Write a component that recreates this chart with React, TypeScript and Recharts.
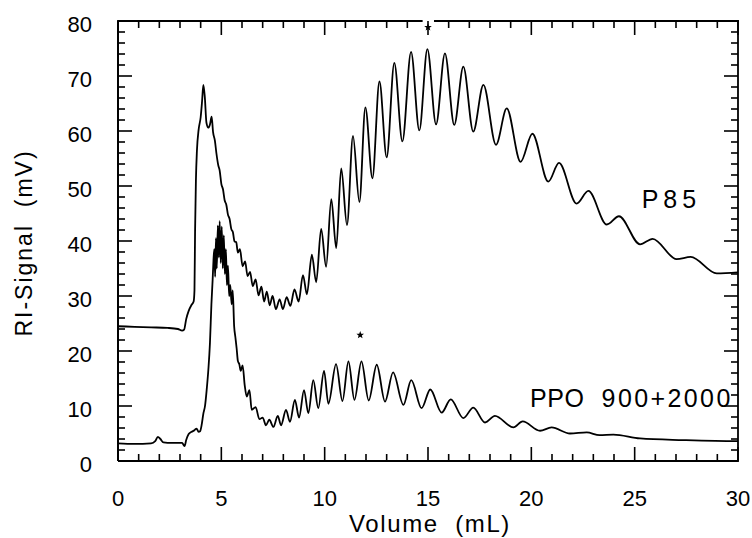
import React from 'react';
import { LineChart, Line, XAxis, YAxis } from 'recharts';

const FONT = '"Liberation Sans", Arial, Helvetica, sans-serif';

// P85 chromatogram: [volume (mL), RI signal (mV)]
const p85Points: [number, number][] = [
  [0, 24.5], [0.8, 24.4], [1.6, 24.3], [2.4, 24.2], [2.9, 24.0], [3.1, 23.7], [3.2, 23.9], [3.3, 25.8],
  [3.42, 27.3], [3.56, 28.4], [3.66, 29.0], [3.7, 31], [3.73, 42], [3.77, 51], [3.82, 56.5], [3.9, 60.2],
  [4.0, 62.5], [4.07, 65.5], [4.13, 68.4], [4.2, 66.2], [4.28, 61.5], [4.37, 60.6], [4.45, 61.2], [4.53, 62.6],
  [4.6, 59.8], [4.69, 58.2], [4.76, 56.0], [4.85, 53.8], [4.92, 52.8], [5.0, 50.4], [5.08, 49.4], [5.16, 47.4],
  [5.24, 46.6], [5.32, 44.8], [5.4, 44.0], [5.48, 42.2], [5.56, 41.6], [5.64, 39.9], [5.72, 39.8], [5.8, 37.9],
  [5.9, 38.5], [6.03, 35.4], [6.15, 36.3], [6.27, 33.6], [6.39, 34.4], [6.52, 31.8], [6.66, 33.0], [6.8, 30.1],
  [6.94, 31.7], [7.07, 29.0], [7.2, 30.8], [7.34, 28.3], [7.48, 30.0], [7.64, 27.6], [7.82, 29.4], [7.98, 27.6],
  [8.16, 29.8], [8.34, 28.2], [8.54, 31.2], [8.74, 29.0], [8.95, 33.8], [9.14, 30.3], [9.38, 37.5], [9.59, 32.5],
  [9.83, 42.2], [10.07, 35.3], [10.32, 47.6], [10.56, 38.7], [10.8, 53.2], [11.08, 42.9], [11.37, 59.1], [11.68, 47.1],
  [11.97, 64.3], [12.31, 51.4], [12.65, 69.0], [13.0, 55.2], [13.37, 72.4], [13.76, 58.1], [14.18, 74.4], [14.58, 60.1],
  [14.97, 74.9], [15.39, 61.2], [15.82, 74.1], [16.27, 61.1], [16.71, 71.7], [17.19, 59.9], [17.68, 68.4], [18.29, 57.5],
  [18.81, 64.1], [19.48, 54.4], [20.05, 59.5], [20.82, 50.8], [21.34, 54.2], [22.19, 46.8], [22.76, 49.1], [23.65, 43.0],
  [24.24, 44.5], [25.26, 39.4], [25.87, 40.4], [27.03, 36.7], [27.71, 37.1], [28.97, 34.1], [30, 34.3],
];

// PPO 900+2000 chromatogram: [volume (mL), RI signal (mV)]
const ppoPoints: [number, number][] = [
  [0, 3.2], [0.8, 3.1], [1.6, 3.2], [1.8, 3.6], [1.93, 4.4], [2.05, 4.0], [2.2, 3.4], [2.6, 3.3], [3.1, 3.3],
  [3.22, 2.7], [3.3, 3.8], [3.42, 4.9], [3.56, 5.3], [3.7, 5.6], [3.8, 5.9], [3.9, 5.3], [3.97, 5.4], [4.05, 6.6],
  [4.13, 8.6], [4.21, 10.0], [4.29, 12.9], [4.37, 16.5], [4.45, 21.5], [4.52, 28.5], [4.58, 33], [4.62, 36.5],
  [4.66, 38.5], [4.7, 33.5], [4.74, 40.5], [4.78, 35], [4.83, 42.8], [4.88, 37], [4.92, 43.6], [4.97, 36],
  [5.02, 42.6], [5.07, 35], [5.12, 41], [5.17, 34], [5.22, 38.5], [5.27, 32], [5.32, 35.5], [5.38, 30],
  [5.43, 32], [5.5, 28.5], [5.55, 31], [5.62, 24.5], [5.68, 22.5], [5.74, 20.5], [5.8, 18.2], [5.87, 17.6],
  [5.94, 16.4], [6.03, 17.4], [6.13, 13.8], [6.23, 11.7], [6.36, 12.9], [6.47, 9.3], [6.66, 9.8], [6.84, 7.6],
  [7.0, 7.9], [7.16, 6.5], [7.32, 7.5], [7.52, 6.2], [7.73, 8.2], [7.89, 6.5], [8.13, 9.3], [8.32, 7.1],
  [8.56, 11.1], [8.76, 7.9], [9.0, 12.9], [9.21, 8.7], [9.45, 14.7], [9.69, 9.6], [9.97, 16.4], [10.18, 10.4],
  [10.55, 17.6], [10.86, 10.9], [11.15, 18.1], [11.44, 11.1], [11.78, 18.1], [12.13, 11.0], [12.52, 17.5], [12.92, 10.8],
  [13.31, 16.1], [13.81, 10.2], [14.19, 14.7], [14.69, 9.6], [15.11, 13.0], [15.66, 8.8], [16.1, 11.2], [16.71, 7.8],
  [17.19, 9.7], [17.76, 7.0], [18.24, 8.2], [19.13, 6.1], [19.58, 7.2], [20.42, 5.5], [20.98, 6.1], [21.87, 5.0],
  [22.68, 5.2], [23.3, 4.7], [23.97, 4.8], [25.26, 4.1], [27.35, 3.8], [29.9, 3.6], [30, 3.6],
];

// Asterisk marks above the most intense oligomer peaks
const starMarks: [number, number][] = [
  [15.0, 78.85],
  [11.72, 22.9],
];

// Series name annotations: [volume, signal, text, letter spacing]
const seriesNotes: [number, number, string, number][] = [
  [25.34, 45.95, 'P85', 5],
  [19.94, 9.85, 'PPO', 0.5],
  [23.4, 9.85, '900+2000', 2.4],
];

const xMajorTicks = [0, 5, 10, 15, 20, 25, 30];
const yMajorTicks = [0, 10, 20, 30, 40, 50, 60, 70, 80];
const xAllTicks = Array.from({ length: 31 }, (_, i) => i);
const yAllTicks = Array.from({ length: 41 }, (_, i) => i * 2);

const xTitle = 'Volume  (mL)';
const yTitle = 'RI-Signal  (mV)';

const p85Data = p85Points.map(([x, y]) => ({ x, y }));
const ppoData = ppoPoints.map(([x, y]) => ({ x, y }));
const starData = starMarks.map(([x, y]) => ({ x, y }));
const noteData = seriesNotes.map(([x, y, text, ls]) => ({ x, y, text, ls }));

// layout
const W = 752;
const H = 538;
const M = { top: 21, right: 14, bottom: 37, left: 58 };
const X_AXIS_H = 40;
const Y_AXIS_W = 60;
const PLOT_L = M.left + Y_AXIS_W; // 118
const PLOT_T = M.top; // 21
const PLOT_W = W - M.left - M.right - Y_AXIS_W; // 620
const PLOT_H = H - M.top - M.bottom - X_AXIS_H; // 440
const PLOT_R = PLOT_L + PLOT_W;
const PLOT_B = PLOT_T + PLOT_H;
const X_DOMAIN = [0, 30];
const Y_DOMAIN = [0, 80];
const MAJ = 14;
const MIN = 7;
const TW = 1.6;
const FW = 1.8;
// gap in the top frame around the P85 asterisk (in mL)
const GAP: [number, number] = [14.74, 15.29];
const X_TITLE_AT = 15;
const Y_TITLE_AT = 40;

// frame/tick overlay positions (axis decoration only)
const px = (v: number) => PLOT_L + ((v - X_DOMAIN[0]) / (X_DOMAIN[1] - X_DOMAIN[0])) * PLOT_W;
const py = (v: number) => PLOT_B - ((v - Y_DOMAIN[0]) / (Y_DOMAIN[1] - Y_DOMAIN[0])) * PLOT_H;

const BottomTick = (props: any) => {
  const { x, y, payload } = props;
  const v = payload.value;
  const major = xMajorTicks.includes(v);
  return (
    <g>
      {major && (
        <text x={x} y={y + 45} textAnchor="middle" fontSize={22} fontFamily={FONT} fill="#000">
          {v}
        </text>
      )}
      {v === X_TITLE_AT && (
        <text
          x={x + 2}
          y={y + 71}
          textAnchor="middle"
          fontSize={24}
          fontFamily={FONT}
          letterSpacing={1.6}
          style={{ whiteSpace: 'pre' }}
          fill="#000"
        >
          {xTitle}
        </text>
      )}
    </g>
  );
};

const LeftTick = (props: any) => {
  const { x, y, payload } = props;
  const v = payload.value;
  const major = yMajorTicks.includes(v);
  const tx = x - 86;
  const ty = y + 2;
  return (
    <g>
      {major && (
        <text x={x - 26} y={y + 11} textAnchor="end" fontSize={22} fontFamily={FONT} fill="#000">
          {v}
        </text>
      )}
      {v === Y_TITLE_AT && (
        <text
          x={tx}
          y={ty}
          transform={`rotate(-90 ${tx} ${ty})`}
          textAnchor="middle"
          fontSize={23}
          fontFamily={FONT}
          letterSpacing={2}
          style={{ whiteSpace: 'pre' }}
          fill="#000"
        >
          {yTitle}
        </text>
      )}
    </g>
  );
};

const StarDot = (props: any) => {
  const { cx, cy, index } = props;
  const R = 4;
  const r = 1.7;
  const pts: string[] = [];
  for (let i = 0; i < 10; i++) {
    const rad = i % 2 === 0 ? R : r;
    const a = -Math.PI / 2 + (i * Math.PI) / 5;
    pts.push(`${cx + rad * Math.cos(a)},${cy + rad * Math.sin(a)}`);
  }
  return <polygon key={`star${index}`} points={pts.join(' ')} fill="#000" />;
};

const NoteDot = (props: any) => {
  const { cx, cy, payload, index } = props;
  return (
    <text
      key={`note${index}`}
      x={cx}
      y={cy}
      fontSize={25}
      fontFamily={FONT}
      fill="#000"
      letterSpacing={payload.ls}
      textAnchor="start"
    >
      {payload.text}
    </text>
  );
};

const FrameOverlay = () => (
  <svg
    width={W}
    height={H}
    style={{ position: 'absolute', left: 0, top: 0, pointerEvents: 'none', overflow: 'visible' }}
  >
    <g stroke="#000" fill="none">
      <line x1={PLOT_L} y1={PLOT_B} x2={PLOT_R} y2={PLOT_B} strokeWidth={FW} />
      <line x1={PLOT_L} y1={PLOT_T} x2={PLOT_L} y2={PLOT_B} strokeWidth={FW} />
      <line x1={PLOT_R} y1={PLOT_T - 0.9} x2={PLOT_R} y2={PLOT_B + 0.9} strokeWidth={FW} />
      <line x1={PLOT_L - 0.9} y1={PLOT_T} x2={px(GAP[0])} y2={PLOT_T} strokeWidth={FW} />
      <line x1={px(GAP[1])} y1={PLOT_T} x2={PLOT_R + 0.9} y2={PLOT_T} strokeWidth={FW} />
      {xAllTicks.map((v) => {
        const len = xMajorTicks.includes(v) ? MAJ : MIN;
        const x = px(v);
        return (
          <g key={`xt${v}`}>
            <line x1={x} y1={PLOT_B} x2={x} y2={PLOT_B - len} strokeWidth={TW} />
            <line x1={x} y1={PLOT_T} x2={x} y2={PLOT_T + len} strokeWidth={TW} />
          </g>
        );
      })}
      {yAllTicks.map((v) => {
        const len = yMajorTicks.includes(v) ? MAJ : MIN;
        const y = py(v);
        return (
          <g key={`yt${v}`}>
            <line x1={PLOT_L} y1={y} x2={PLOT_L + len} y2={y} strokeWidth={TW} />
            <line x1={PLOT_R} y1={y} x2={PLOT_R - len} y2={y} strokeWidth={TW} />
          </g>
        );
      })}
    </g>
  </svg>
);

export default function App() {
  return (
    <div style={{ position: 'absolute', left: 0, top: 0, width: W, height: H, background: '#fff' }}>
      <LineChart width={W} height={H} margin={M}>
        <XAxis
          xAxisId="b"
          type="number"
          dataKey="x"
          domain={X_DOMAIN}
          ticks={xAllTicks}
          interval={0}
          tickSize={0}
          tickMargin={0}
          tickLine={false}
          axisLine={{ stroke: '#000', strokeWidth: FW }}
          tick={<BottomTick />}
          height={X_AXIS_H}
        />
        <YAxis
          yAxisId="l"
          type="number"
          dataKey="y"
          domain={Y_DOMAIN}
          ticks={yAllTicks}
          interval={0}
          tickSize={0}
          tickMargin={0}
          tickLine={false}
          axisLine={{ stroke: '#000', strokeWidth: FW }}
          tick={<LeftTick />}
          width={Y_AXIS_W}
        />
        <Line
          xAxisId="b"
          yAxisId="l"
          data={p85Data}
          dataKey="y"
          type="monotone"
          stroke="#000"
          strokeWidth={1.8}
          dot={false}
          activeDot={false}
          isAnimationActive={false}
        />
        <Line
          xAxisId="b"
          yAxisId="l"
          data={ppoData}
          dataKey="y"
          type="monotone"
          stroke="#000"
          strokeWidth={1.8}
          dot={false}
          activeDot={false}
          isAnimationActive={false}
        />
        <Line
          xAxisId="b"
          yAxisId="l"
          data={starData}
          dataKey="y"
          stroke="none"
          dot={<StarDot />}
          activeDot={false}
          isAnimationActive={false}
        />
        <Line
          xAxisId="b"
          yAxisId="l"
          data={noteData}
          dataKey="y"
          stroke="none"
          dot={<NoteDot />}
          activeDot={false}
          isAnimationActive={false}
        />
      </LineChart>
      <FrameOverlay />
    </div>
  );
}
